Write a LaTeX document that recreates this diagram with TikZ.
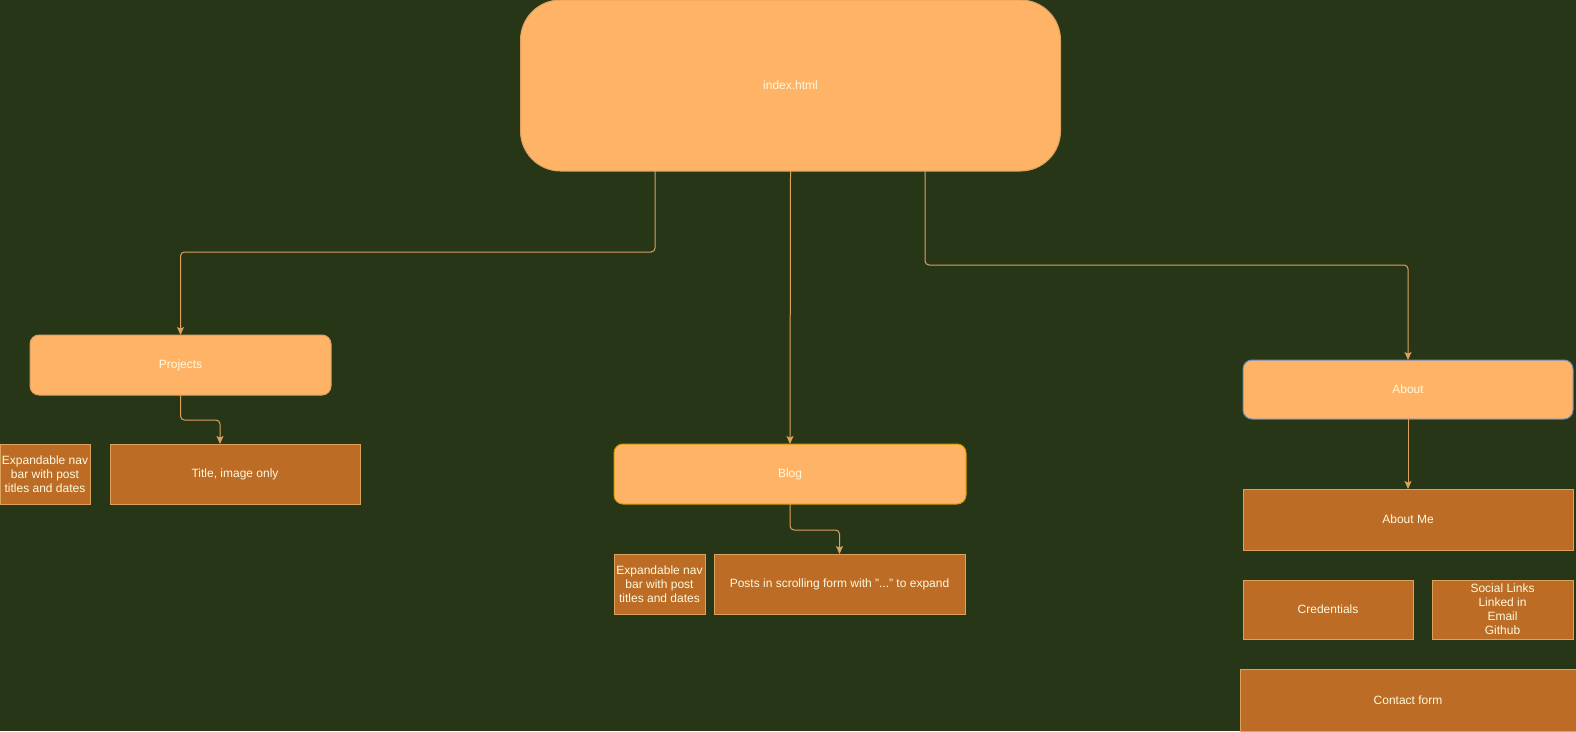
\documentclass[tikz,border=0pt]{standalone}
\usepackage{fontspec}
\setmainfont{Liberation Sans}
\usetikzlibrary{arrows.meta,positioning}
\definecolor{olivebg}{HTML}{283618}
\definecolor{peach}{HTML}{FFB366}
\definecolor{rust}{HTML}{BC6C25}
\definecolor{sand}{HTML}{DDA15E}
\definecolor{cream}{HTML}{FEFAE0}
\definecolor{steelblue}{HTML}{6C8EBF}
\definecolor{amber}{HTML}{D79B00}

\begin{document}
\begin{tikzpicture}[x=0.75pt,y=-0.75pt,
        page node/.style={rectangle,rounded corners=6.75pt,fill=peach,draw=sand,line width=0.75pt,
            text=cream,inner sep=0pt,outer sep=0pt,font=\fontsize{9}{10.5}\selectfont,align=center},
        part box/.style={rectangle,fill=rust,draw=sand,line width=0.75pt,
            text=cream,inner sep=0pt,outer sep=0pt,font=\fontsize{9}{10.5}\selectfont,align=center},
        link/.style={draw=sand,line width=0.75pt,rounded corners=3pt,
            -{Stealth[length=6pt,width=5.25pt,inset=1.2pt]}}]

    % background
    \fill[olivebg] (0,0) rectangle (1576,731);
    \useasboundingbox (0,0) rectangle (1576,731);

    % top page
    \node[page node,rounded corners=30pt,minimum width=405pt,minimum height=128.25pt] (index) at (790.5,85.5) {index.html};

    % projects
    \node[page node,minimum width=225.75pt,minimum height=45pt] (projects) at (180.5,365) {Projects};
    \node[part box,minimum width=187.5pt,minimum height=45pt] (titleimg) at (235,474) {Title, image only};
    \node[part box,minimum width=67.5pt,minimum height=45pt] (navleft) at (45,474) {Expandable nav\\bar with post\\titles and dates};

    % blog
    \node[page node,draw=amber,minimum width=264pt,minimum height=45pt] (blog) at (790,474) {Blog};
    \node[part box,minimum width=68.25pt,minimum height=45pt] (navblog) at (659.5,584) {Expandable nav\\bar with post\\titles and dates};
    \node[part box,minimum width=188.25pt,minimum height=45pt] (posts) at (839.5,584) {Posts in scrolling form with "..." to expand};

    % about
    \node[page node,draw=steelblue,minimum width=247.5pt,minimum height=44.25pt] (about) at (1408,389.5) {About};
    \node[part box,minimum width=247.5pt,minimum height=45.75pt] (aboutme) at (1408,519.5) {About Me};
    \node[part box,minimum width=127.5pt,minimum height=44.25pt] (creds) at (1328,609.5) {Credentials};
    \node[part box,minimum width=105.75pt,minimum height=44.25pt] (social) at (1502.5,609.5) {Social Links\\Linked in\\Email\\Github};
    \node[part box,minimum width=252pt,minimum height=46.5pt] (contact) at (1408,700) {Contact form};

    \draw[link] ([xshift=-101.6pt]index.south) -- ++(0,81) -| (projects.north);
    \draw[link] (index.south) -- (blog.north);
    \draw[link] ([xshift=100.9pt]index.south) -- ++(0,94) -| (about.north);
    \draw[link] (projects.south) -- ++(0,25) -| ([xshift=-11.25pt]titleimg.north);
    \draw[link] (blog.south) -- ++(0,26) -| (posts.north);
    \draw[link] (about.south) -- (aboutme.north);

\end{tikzpicture}
\end{document}
